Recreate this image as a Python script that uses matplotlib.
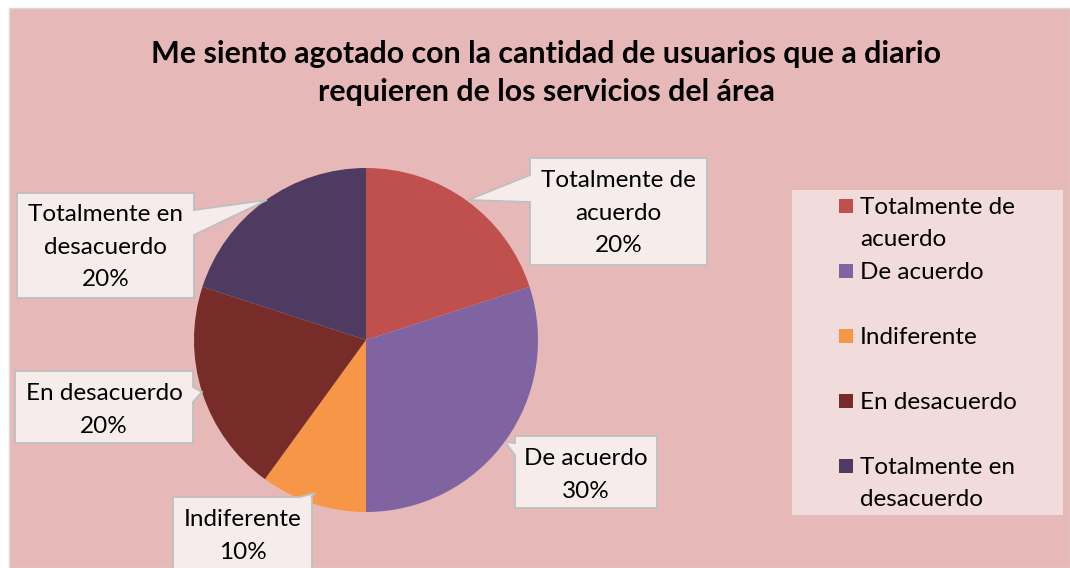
import matplotlib
matplotlib.use("Agg")
import matplotlib.pyplot as plt
from matplotlib.patches import Rectangle, Polygon

# Data
categories = ["Totalmente de\nacuerdo", "De acuerdo", "Indiferente",
              "En desacuerdo", "Totalmente en\ndesacuerdo"]
values = [20, 30, 10, 20, 20]
colors = ["#C0504D", "#8064A2", "#F79646", "#772C2A", "#4F3B62"]

TITLE = ("Me siento agotado con la cantidad de usuarios que a diario\n"
         "requieren de los servicios del área")

W, H = 1070, 568
CX, CY, R = 366, 340, 172   # pie centre / radius in pixels

BG = "#E6B9B8"
LABEL_FC = "#F6ECEC"
LEGEND_FC = "#F2DCDB"
EDGE = "#BFBFBF"
FS = 17.5
LS = 1.65

plt.rcParams["font.family"] = ["Lato", "DejaVu Sans"]


def fx(px):
    return px / W


def fy(py):
    return 1 - py / H


def dx(px):
    return (px - CX) / R


def dy(py):
    return (CY - py) / R


def callout_vertices(box, side, b0, b1, tip):
    """Box with a pointer wedge, in pixel coords, as pie-axes data coords."""
    x0, y0, x1, y1 = box
    if side == "left":
        pts = [(x0, y0), (x1, y0), (x1, y1), (x0, y1), (x0, b1), tip, (x0, b0)]
    elif side == "right":
        pts = [(x0, y0), (x1, y0), (x1, b0), tip, (x1, b1), (x1, y1), (x0, y1)]
    else:  # top
        pts = [(x0, y0), (b0, y0), tip, (b1, y0), (x1, y0), (x1, y1), (x0, y1)]
    return [(dx(px), dy(py)) for px, py in pts]


fig = plt.figure(figsize=(W / 100, H / 100), dpi=100)
fig.patch.set_facecolor("white")
fig.patches.append(Rectangle((fx(9), 0), 1 - fx(9), fy(8), transform=fig.transFigure,
                             facecolor=BG, edgecolor="#D9D9D9", lw=1, zorder=-5))

ax = fig.add_axes([0, 0, 1, 1])
ax.patch.set_visible(False)
wedges, _ = ax.pie(values, colors=colors, startangle=90, counterclock=False,
                   wedgeprops=dict(linewidth=0))
ax.set_xlim(dx(0), dx(W))
ax.set_ylim(dy(H), dy(0))
ax.set_aspect("equal")
ax.axis("off")

# callout layout per slice: box (x0, y0, x1, y1), pointer side, base span, tip
callouts = [((530, 158, 707, 265), "left", 175, 202, (468, 200)),
            ((515, 436, 657, 508), "left", 443, 455, (505, 442)),
            ((173, 497, 312, 590), "top", 300, 311, (315, 493)),
            ((15, 371, 193, 443), "right", 387, 402, (202, 392)),
            ((17, 193, 194, 298), "right", 210, 235, (267, 200))]
text_y = [213, 475, 536, 410, 247]

for cat, val, (box, side, b0, b1, tip), ty in zip(categories, values, callouts, text_y):
    ax.add_patch(Polygon(callout_vertices(box, side, b0, b1, tip), closed=True,
                         fc=LABEL_FC, ec=EDGE, lw=1.3, joinstyle="miter", zorder=4))
    ax.text(dx((box[0] + box[2]) / 2), dy(ty), f"{cat}\n{val}%",
            ha="center", va="center", fontsize=FS, linespacing=LS, zorder=5)

fig.text(fx(546), fy(73), TITLE, ha="center", va="center", fontsize=21.9,
         fontweight="bold", linespacing=1.4)

# legend panel
fig.patches.append(Rectangle((fx(792), fy(515)), fx(1063) - fx(792), fy(190) - fy(515),
                             transform=fig.transFigure, facecolor=LEGEND_FC,
                             edgecolor="none", zorder=1))
for i, (cat, col) in enumerate(zip(categories, colors)):
    y = 206 + 65 * i
    fig.patches.append(Rectangle((fx(839), fy(y + 7)), fx(14), 14 / H,
                                 transform=fig.transFigure, facecolor=col,
                                 edgecolor="none", zorder=2))
    fig.text(fx(860), fy(y - 9), cat, ha="left", va="top", fontsize=FS,
             linespacing=LS, zorder=3)

fig.savefig("out.png", dpi=100)
